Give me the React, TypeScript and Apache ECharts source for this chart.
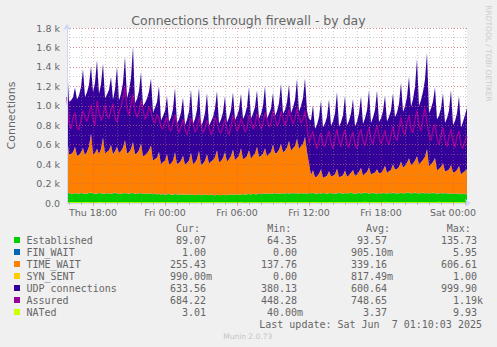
import React, { useEffect, useRef } from 'react';
import * as echarts from 'echarts';

// ---- data (10-minute samples, Thu 15:50 -> Sat 01:10) ----
const dayNames = ['Thu', 'Fri', 'Sat'];
const startMinute = 15 * 60 + 50;
const stepMinutes = 10;

const xTickLabels = ['Thu 18:00', 'Fri 00:00', 'Fri 06:00', 'Fri 12:00', 'Fri 18:00', 'Sat 00:00'];

const established = [
  98, 104, 96, 92, 101, 97, 95, 103, 99, 94,
  96, 102, 108, 99, 95, 97, 104, 100, 93, 98,
  101, 96, 94, 99, 106, 97, 92, 95, 100, 103,
  97, 94, 99, 105, 96, 92, 98, 101, 95, 93,
  97, 100, 94, 90, 96, 88, 92, 87, 90, 85,
  89, 93, 86, 84, 91, 88, 85, 90, 83, 87,
  86, 82, 89, 85, 80, 84, 88, 83, 79, 86,
  84, 81, 87, 83, 78, 85, 82, 80, 86, 84,
  81, 85, 88, 83, 86, 90, 84, 87, 91, 86,
  89, 92, 87, 94, 90, 88, 95, 91, 93, 97,
  94, 99, 92, 96, 101, 95, 98, 93, 100, 97,
  102, 96, 99, 104, 97, 101, 95, 103, 98, 100,
  96, 102, 99, 105, 98, 94, 101, 97, 103, 99,
  95, 100, 104, 97, 93, 99, 106, 101, 96, 102,
  98, 103, 110, 100, 95, 99, 105, 97, 101, 108,
  103, 97, 100, 106, 99, 94, 102, 98, 104, 100,
  97, 103, 99, 107, 101, 96, 100, 105, 98, 102,
  110, 104, 99, 103, 108, 100, 97, 102, 106, 99,
  103, 98, 101, 107, 100, 96, 99, 104, 97, 101,
  98, 94, 100, 96, 92, 97, 93, 90, 95, 91,
  89.07,
];

const finWait = [
  1, 1, 0, 1, 1, 2, 1, 1, 1, 0, 1, 1, 1, 2, 1, 1, 0, 1, 1, 1,
  1, 0, 1, 1, 1, 1, 2, 1, 1, 1, 0, 1, 1, 1, 1, 1, 2, 1, 0, 1,
  1, 1, 1, 0, 1, 1, 1, 1, 6, 2, 1, 1, 0, 1, 1, 1, 1, 1, 1, 0,
  1, 1, 2, 1, 1, 0, 1, 1, 1, 1, 1, 0, 1, 1, 2, 1, 1, 1, 0, 1,
  0, 1, 1, 1, 1, 0, 1, 1, 1, 0, 1, 1, 1, 1, 0, 1, 1, 2, 1, 1,
  1, 1, 0, 1, 1, 1, 1, 2, 1, 1, 0, 1, 1, 1, 1, 0, 1, 1, 1, 1,
  1, 2, 1, 1, 0, 1, 1, 1, 1, 1, 1, 0, 1, 1, 1, 2, 1, 1, 0, 1,
  1, 1, 1, 0, 1, 1, 3, 1, 1, 1, 0, 1, 1, 1, 1, 1, 0, 1, 1, 1,
  0, 1, 1, 1, 2, 1, 1, 0, 1, 1, 1, 1, 1, 0, 1, 1, 1, 2, 1, 1,
  1, 0, 1, 1, 1, 1, 0, 1, 1, 1, 2, 1, 1, 1, 0, 1, 1, 1, 1, 1,
  1,
];

const timeWait = [
  585, 395, 407, 427, 475, 385, 397, 417, 465, 395,
  426, 477, 606, 400, 418, 460, 400, 454, 580, 410,
  424, 446, 500, 400, 424, 480, 420, 438, 468, 540,
  410, 427, 454, 520, 400, 417, 444, 510, 385, 396,
  413, 440, 495, 340, 354, 376, 430, 310, 325, 350,
  410, 300, 320, 352, 430, 310, 324, 346, 400, 305,
  323, 353, 425, 315, 335, 367, 445, 305, 322, 349,
  415, 325, 338, 358, 390, 455, 335, 350, 375, 435,
  345, 363, 393, 465, 355, 373, 403, 475, 360, 374,
  396, 450, 370, 388, 418, 490, 375, 389, 411, 465,
  385, 403, 433, 505, 405, 421, 447, 510, 420, 438,
  468, 540, 440, 458, 488, 560, 460, 478, 508, 580,
  430, 300, 190, 230, 165, 177, 197, 245, 155, 166,
  183, 225, 170, 182, 202, 250, 160, 171, 188, 230,
  170, 181, 198, 240, 180, 192, 212, 260, 180, 194,
  216, 270, 190, 199, 214, 250, 200, 212, 232, 280,
  210, 222, 242, 290, 240, 252, 272, 320, 265, 279,
  301, 355, 290, 304, 326, 380, 300, 315, 338, 375,
  450, 280, 292, 312, 360, 240, 251, 268, 310, 220,
  231, 248, 290, 215, 226, 243, 285, 205, 218, 236,
  255.43,
];

const synSent = [
  1, 1, 1, 0.8, 1, 1, 0.6, 1, 1, 1, 0.9, 1, 1, 1, 0.7, 1, 1, 1, 0.5, 1,
  1, 1, 0.8, 1, 1, 1, 0, 1, 1, 0.9, 1, 1, 1, 0.6, 1, 1, 1, 1, 0.8, 1,
  0.7, 1, 1, 1, 0.9, 1, 1, 0.4, 1, 1, 1, 1, 0.8, 1, 1, 0.6, 1, 1, 1, 0.9,
  1, 1, 0.5, 1, 1, 1, 0.8, 1, 1, 0, 1, 1, 0.9, 1, 1, 1, 0.7, 1, 1, 1,
  1, 0.8, 1, 1, 0.6, 1, 1, 1, 0.9, 1, 1, 0.3, 1, 1, 1, 0.8, 1, 1, 0.9, 1,
  1, 1, 0.7, 1, 1, 0.9, 1, 1, 1, 0.5, 1, 1, 0.8, 1, 1, 1, 0.6, 1, 1, 0.9,
  1, 0.4, 1, 1, 1, 0.8, 1, 1, 0.9, 1, 1, 1, 0.6, 1, 1, 0.8, 1, 0, 1, 1,
  0.9, 1, 1, 0.7, 1, 1, 1, 0.8, 1, 1, 0.5, 1, 1, 0.9, 1, 1, 1, 0.7, 1, 1,
  1, 0.8, 1, 1, 0.9, 1, 1, 0.6, 1, 1, 1, 0.8, 1, 0.4, 1, 1, 0.9, 1, 1, 1,
  1, 0.7, 1, 1, 0.8, 1, 1, 1, 0.6, 1, 1, 0.9, 1, 1, 0.8, 1, 1, 0.7, 1, 1,
  0.99,
];

const udp = [
  770, 540, 551, 568, 610, 580, 615, 672, 810, 600,
  614, 636, 690, 640, 721, 910, 620, 662, 760, 570,
  590, 622, 700, 560, 638, 820, 540, 588, 668, 860,
  570, 632, 734, 980, 530, 560, 610, 730, 520, 537,
  562, 605, 690, 500, 527, 572, 680, 450, 473, 510,
  600, 440, 473, 528, 660, 420, 447, 492, 600, 410,
  446, 506, 650, 410, 446, 506, 650, 400, 435, 492,
  630, 390, 412, 445, 500, 610, 400, 427, 472, 580,
  400, 429, 476, 590, 410, 433, 470, 560, 410, 446,
  506, 650, 410, 436, 478, 580, 395, 432, 493, 640,
  390, 411, 446, 530, 390, 425, 482, 620, 395, 423,
  469, 580, 385, 419, 475, 610, 385, 417, 471, 600,
  420, 460, 560, 670, 500, 532, 584, 710, 520, 553,
  608, 740, 520, 561, 628, 790, 520, 558, 620, 770,
  530, 560, 610, 730, 510, 545, 602, 740, 530, 569,
  634, 790, 530, 572, 642, 810, 530, 559, 606, 720,
  530, 560, 610, 730, 540, 581, 648, 810, 570, 611,
  678, 840, 600, 660, 760, 999, 600, 639, 698, 795,
  990, 550, 577, 622, 730, 520, 550, 600, 720, 500,
  541, 608, 770, 490, 525, 582, 720, 480, 520, 575,
  633.56,
];

const assured = [
  1090, 820, 760, 880, 930, 780, 750, 860, 950, 880,
  840, 920, 1010, 860, 800, 1050, 930, 850, 900, 1010,
  900, 870, 960, 1020, 880, 830, 940, 990, 1080, 1190,
  980, 900, 1010, 1120, 950, 880, 930, 1050, 960, 860,
  900, 990, 940, 850, 820, 910, 870, 780, 760, 840,
  880, 770, 740, 820, 900, 800, 720, 790, 860, 760,
  700, 780, 870, 820, 730, 760, 880, 800, 720, 770,
  850, 780, 700, 760, 880, 830, 740, 720, 800, 860,
  760, 700, 790, 900, 820, 740, 780, 870, 810, 730,
  770, 900, 850, 760, 800, 920, 840, 760, 810, 930,
  860, 780, 820, 950, 880, 790, 830, 940, 870, 800,
  850, 960, 880, 810, 870, 970, 890, 820, 860, 950,
  780, 620, 680, 740, 620, 560, 650, 720, 600, 580,
  680, 740, 620, 560, 660, 760, 640, 580, 700, 750,
  610, 570, 680, 730, 600, 560, 690, 760, 640, 590,
  700, 780, 650, 600, 710, 800, 680, 610, 660, 750,
  640, 600, 700, 790, 680, 640, 760, 880, 740, 700,
  820, 900, 760, 720, 860, 950, 800, 740, 880, 980,
  830, 700, 640, 760, 810, 670, 600, 700, 780, 640,
  580, 680, 760, 630, 570, 690, 740, 600, 560, 640,
  684.22,
];

const nated = [
  3.2, 2.8, 3.5, 4.1, 3.0, 2.6, 3.3, 3.9, 2.9, 3.4, 4.2, 3.1, 2.7, 3.6, 3.0, 2.5, 3.8, 4.4, 3.2, 2.9,
  3.1, 3.7, 2.4, 3.3, 4.0, 2.8, 3.5, 3.0, 2.6, 3.9, 3.2, 2.9, 4.3, 3.4, 2.7, 3.1, 3.6, 2.8, 3.3, 4.1,
  2.9, 3.4, 3.0, 2.6, 3.8, 3.2, 2.5, 3.6, 4.0, 3.1, 2.8, 3.3, 3.7, 2.9, 3.5, 3.0, 2.4, 3.2, 3.9, 2.7,
  3.3, 2.8, 3.6, 3.1, 2.5, 3.4, 4.2, 3.0, 2.7, 3.5, 3.1, 2.6, 3.8, 3.3, 2.9, 3.6, 3.0, 2.5, 3.4, 3.9,
  3.0, 2.7, 3.3, 2.4, 3.6, 3.1, 2.8, 3.9, 3.2, 0.04, 2.6, 3.4, 3.0, 2.8, 3.7, 3.2, 2.5, 3.3, 3.0, 2.9,
  3.5, 3.1, 2.7, 3.8, 3.2, 2.9, 3.4, 4.1, 3.0, 2.6, 3.3, 3.6, 2.8, 3.1, 3.9, 3.4, 2.7, 3.2, 3.5, 3.0,
  3.6, 3.2, 2.9, 3.7, 4.3, 3.1, 2.8, 3.5, 3.9, 3.3, 3.0, 3.6, 4.0, 3.2, 2.9, 3.4, 3.8, 3.1, 3.5, 4.2,
  3.7, 3.3, 4.1, 3.0, 3.6, 3.9, 3.4, 3.1, 4.4, 9.9, 3.8, 3.2, 3.5, 4.0, 3.3, 3.7, 3.0, 3.6, 4.2, 9.6,
  3.4, 3.9, 3.2, 3.6, 4.1, 3.0, 3.5, 3.8, 3.3, 3.1, 3.7, 4.0, 3.4, 3.2, 3.8, 3.5, 3.0, 3.6, 4.3, 3.3,
  3.1, 3.6, 3.4, 2.9, 3.8, 3.2, 9.9, 3.5, 3.0, 3.3, 3.7, 2.8, 3.4, 3.1, 3.6, 2.9, 3.2, 3.5, 3.0, 3.3,
  3.01,
];

// ---- legend table ----
const legendNames = ['Established', 'FIN_WAIT', 'TIME_WAIT', 'SYN_SENT', 'UDP connections', 'Assured', 'NATed'];
const curText = ['89.07', '1.00', '255.43', '990.00m', '633.56', '684.22', '3.01'];
const minText = ['64.35', '0.00', '137.76', '0.00', '380.13', '448.28', '40.00m'];
const avgText = ['93.57', '905.10m', '339.16', '817.49m', '600.64', '748.65', '3.37'];
const maxText = ['135.73', '5.95', '606.61', '1.00', '999.90', '1.19k', '9.93'];
const columnHeaders = ['Cur:', 'Min:', 'Avg:', 'Max:'];
const lastUpdate = 'Last update: Sat Jun \u00a07 01:10:03 2025';
const titleText = 'Connections through firewall - by day';
const yAxisTitle = 'Connections';
const rrdSignature = 'RRDTOOL / TOBI OETIKER';
const muninVersion = 'Munin 2.0.73';

const seriesColors = ['#00CC00', '#0066B3', '#FF8000', '#FFCC00', '#330099', '#990099', '#CCFF00'];

const times: string[] = established.map((_, i) => {
  const t = startMinute + i * stepMinutes;
  const d = Math.floor(t / 1440);
  const hh = Math.floor((t % 1440) / 60);
  const mm = t % 60;
  return `${dayNames[d]} ${String(hh).padStart(2, '0')}:${String(mm).padStart(2, '0')}`;
});

const isMajor = (v: string) => xTickLabels.includes(v);
const isMinor = (v: string) => v.endsWith(':00') && !isMajor(v);

const FONT = '"DejaVu Sans", sans-serif';
const MONO = '"DejaVu Sans Mono", monospace';
const TXT = '#666666';

function textEl(text: string, x: number, y: number, font: string, align: string, fill = TXT, extra: any = {}) {
  return {
    type: 'text',
    x,
    y,
    ...extra,
    style: { text, font, fill, align, textAlign: align, verticalAlign: 'middle', textVerticalAlign: 'middle' },
    silent: true,
  };
}

export default function App() {
  const ref = useRef<HTMLDivElement>(null);
  useEffect(() => {
    if (!ref.current) return;
    const chart = echarts.init(ref.current, undefined, { renderer: 'svg' });

    const stackSeries = [
      ['Established', established],
      ['FIN_WAIT', finWait],
      ['TIME_WAIT', timeWait],
      ['SYN_SENT', synSent],
      ['UDP connections', udp],
    ].map(([name, data], k) => ({
      name,
      type: 'line',
      data,
      stack: 'conn',
      symbol: 'none',
      silent: true,
      z: 2,
      lineStyle: { width: 0 },
      itemStyle: { color: seriesColors[k] },
      areaStyle: { color: seriesColors[k], opacity: 1 },
      xAxisIndex: 0,
      yAxisIndex: 0,
    }));

    const graphics: any[] = [];
    graphics.push(textEl(yAxisTitle, 11.5, 115.5, `11px ${FONT}`, 'center', TXT, { rotation: Math.PI / 2 }));
    graphics.push(textEl(rrdSignature, 488, 53.5, `7.5px ${FONT}`, 'center', '#CCCCCC', { rotation: -Math.PI / 2 }));
    graphics.push(textEl(muninVersion, 247.7, 336, `7.5px ${FONT}`, 'center', '#C4C4C4'));

    const headerX = [176, 267.3, 366, 446.7];
    columnHeaders.forEach((h, c) => graphics.push(textEl(h, headerX[c], 228, `10px ${MONO}`, 'left')));
    const colEnds = [206, 297, 387, 477];
    const cols = [curText, minText, avgText, maxText];
    legendNames.forEach((name, r) => {
      const y = 240 + r * 12;
      graphics.push({
        type: 'rect',
        shape: { x: 14, y: y - 3, width: 6, height: 6 },
        style: { fill: seriesColors[r] },
        silent: true,
      });
      graphics.push(textEl(name, 26.5, y, `10px ${MONO}`, 'left'));
      cols.forEach((col, c) => {
        const s = col[r];
        const last = s.charAt(s.length - 1);
        const hasSuffix = last === 'm' || last === 'k';
        const num = hasSuffix ? s.slice(0, -1) : s;
        graphics.push(textEl(num, colEnds[c], y, `10px ${MONO}`, 'right'));
        if (hasSuffix) graphics.push(textEl(last, colEnds[c], y, `10px ${MONO}`, 'left'));
      });
    });
    graphics.push(textEl(lastUpdate, 482, 324, `10px ${MONO}`, 'right'));

    const minorGrid = 'rgba(144,144,144,0.45)';
    const majorGrid = 'rgba(224,80,80,0.45)';

    chart.setOption({
      animation: false,
      backgroundColor: '#F0F0F0',
      title: {
        text: titleText,
        left: 'center',
        top: 9,
        textStyle: { fontFamily: FONT, fontSize: 12.5, fontWeight: 'normal', color: TXT },
      },
      grid: { left: 67, right: 30, top: 28, bottom: 144, show: true, backgroundColor: '#FFFFFF', borderWidth: 0 },
      xAxis: [
        {
          type: 'category',
          data: times,
          boundaryGap: false,
          z: 5,
          axisLine: {
            show: true,
            lineStyle: { color: '#CFD6F8', width: 1 },
            symbol: ['none', 'arrow'],
            symbolSize: [6, 6],
            symbolOffset: [0, 4],
          },
          axisTick: { show: true, interval: (i: number, v: string) => isMinor(v), length: 2, lineStyle: { color: minorGrid } },
          axisLabel: { show: false },
          splitLine: { show: true, interval: (i: number, v: string) => isMinor(v), lineStyle: { color: minorGrid, type: [1, 2], width: 1 } },
        },
        {
          type: 'category',
          data: times,
          boundaryGap: false,
          position: 'bottom',
          z: 5,
          axisLine: { show: false },
          axisTick: { show: true, interval: (i: number, v: string) => isMajor(v), length: 3, lineStyle: { color: majorGrid } },
          axisLabel: {
            show: true,
            interval: (i: number, v: string) => isMajor(v),
            color: TXT,
            fontFamily: FONT,
            fontSize: 9.5,
            margin: 4,
          },
          splitLine: { show: true, interval: (i: number, v: string) => isMajor(v), lineStyle: { color: majorGrid, type: [1, 2], width: 1 } },
        },
      ],
      yAxis: [
        {
          type: 'value',
          min: 0,
          max: 1800,
          interval: 100,
          z: 5,
          axisLine: {
            show: true,
            lineStyle: { color: '#CFD6F8', width: 1 },
            symbol: ['none', 'arrow'],
            symbolSize: [6, 6],
            symbolOffset: [0, 4],
          },
          axisTick: { show: false },
          axisLabel: { show: false },
          splitLine: { show: true, lineStyle: { color: minorGrid, type: [1, 2], width: 1 } },
        },
        {
          type: 'value',
          position: 'left',
          min: 0,
          max: 1800,
          interval: 200,
          z: 5,
          axisLine: { show: false },
          axisTick: { show: false },
          axisLabel: {
            color: TXT,
            fontFamily: FONT,
            fontSize: 9.5,
            margin: 7,
            formatter: (v: number) => (v === 0 ? '0.0' : (v / 1000).toFixed(1) + ' k'),
          },
          splitLine: { show: true, lineStyle: { color: majorGrid, type: [1, 2], width: 1 } },
        },
      ],
      series: [
        ...stackSeries,
        {
          name: 'Assured',
          type: 'line',
          data: assured,
          symbol: 'none',
          silent: true,
          z: 3,
          lineStyle: { color: seriesColors[5], width: 1.4 },
          itemStyle: { color: seriesColors[5] },
        },
        {
          name: 'NATed',
          type: 'line',
          data: nated,
          symbol: 'none',
          silent: true,
          z: 3,
          lineStyle: { color: seriesColors[6], width: 1 },
          itemStyle: { color: seriesColors[6] },
        },
      ],
      graphic: graphics,
    });
    return () => chart.dispose();
  }, []);
  return <div ref={ref} style={{ position: 'fixed', left: 0, top: 0, width: 497, height: 347 }} />;
}
